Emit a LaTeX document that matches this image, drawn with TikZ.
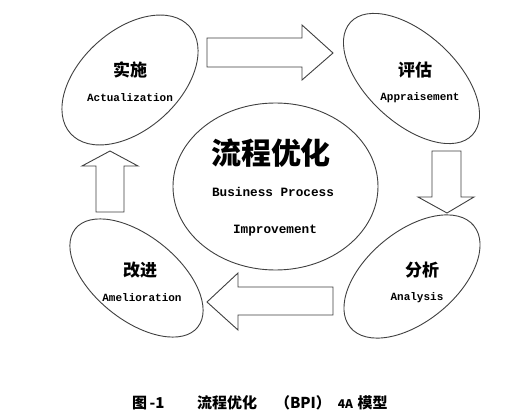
\documentclass[tikz,border=0pt]{standalone}
\usepackage{fontspec}
\usetikzlibrary{shapes.geometric}
\newfontfamily\cjk{Noto Sans CJK SC}
\newfontfamily\mono{Liberation Mono}
\begin{document}
\begin{tikzpicture}[x=1pt,y=-1pt,
  oval/.style={ellipse,draw=black!75,line width=0.9pt,inner sep=0pt},
  blockarrow/.style={draw=black!75,line width=0.9pt,fill=white},
  zh/.style={font=\cjk\bfseries\fontsize{17}{17}\selectfont,inner sep=0pt},
  en/.style={font=\mono\bfseries\fontsize{11}{11}\selectfont,inner sep=0pt},
  zhbig/.style={font=\cjk\bfseries\fontsize{30}{30}\selectfont,inner sep=0pt},
  enbig/.style={font=\mono\bfseries\fontsize{12.7}{12.7}\selectfont,inner sep=0pt},
  captext/.style={font=\cjk\bfseries\fontsize{15}{15}\selectfont,inner sep=0pt}]
\useasboundingbox[fill=white] (0,0) rectangle (523,415);

% ellipses
\node[oval,minimum width=160pt,minimum height=99pt,rotate=42] (tl) at (130,80) {};
\node[oval,minimum width=166pt,minimum height=89pt,rotate=-42.7] (tr) at (411.5,78.5) {};
\node[oval,minimum width=160pt,minimum height=90pt,rotate=39.5] (br) at (412,276.5) {};
\node[oval,minimum width=157pt,minimum height=84pt,rotate=-38.8] (bl) at (136.5,278) {};
\node[oval,minimum width=205pt,minimum height=167pt] (c) at (275.5,186.5) {};

% block arrows
\draw[blockarrow] (207,38) -- (302,38) -- (302,25) -- (333,53) -- (302,80) -- (302,67) -- (207,67) -- cycle;
\draw[blockarrow] (432,151) -- (461,151) -- (461,197) -- (474,197) -- (447,213) -- (418,197) -- (432,197) -- cycle;
\draw[blockarrow] (333,287) -- (238,287) -- (238,273) -- (207,302) -- (238,330) -- (238,315) -- (333,315) -- cycle;
\draw[blockarrow] (96,212) -- (96,166) -- (82,166) -- (110,151) -- (138,166) -- (124,166) -- (124,212) -- cycle;

% texts
\node[zh] (tlz) at (130,70) {实施};
\node[en] (tle) at (130,98) {Actualization};
\node[zh] (trz) at (415,70) {评估};
\node[en] (tre) at (420,98) {Appraisement};
\node[zh] (brz) at (422,270) {分析};
\node[en] (bre) at (417,298) {Analysis};
\node[zh] (blz) at (140,270) {改进};
\node[en] (ble) at (142,298) {Amelioration};
\node[zhbig] (cz) at (271,153) {流程优化};
\node[enbig] (ce1) at (273,192) {Business Process};
\node[enbig] (ce2) at (275,231) {Improvement};

% caption
\node[captext,anchor=west] (cap1) at (132,403) {图\,-1};
\node[captext,anchor=west] (cap2) at (197,403) {流程优化};
\node[captext] (cap3) at (303,403) {（BPI）};
\node[captext,font=\cjk\bfseries\fontsize{12}{12}\selectfont] (cap4) at (345.5,404) {4A};
\node[captext] (cap5) at (372.5,403) {模型};
\end{tikzpicture}
\end{document}
